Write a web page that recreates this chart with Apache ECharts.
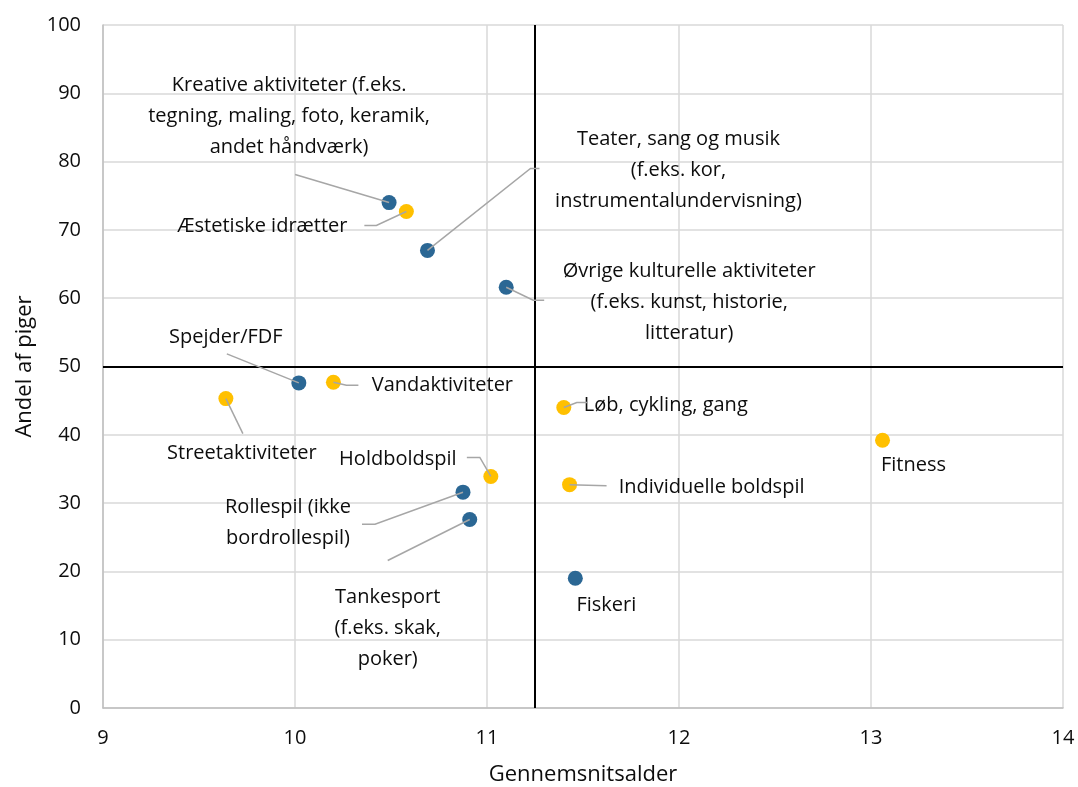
<!DOCTYPE html>
<html>
<head>
<meta charset="utf-8">
<script src="https://cdn.jsdelivr.net/npm/echarts@6/dist/echarts.min.js"></script>
<style>html,body{margin:0;padding:0;background:#fff}#c{width:1078px;height:787px}</style>
</head>
<body>
<div id="c"></div>
<script>
// Blue series (activities)
const blueNames = [
  'Kreative aktiviteter (f.eks.\ntegning, maling, foto, keramik,\nandet håndværk)',
  'Teater, sang og musik\n(f.eks. kor,\ninstrumentalundervisning)',
  'Øvrige kulturelle aktiviteter\n(f.eks. kunst, historie,\nlitteratur)',
  'Spejder/FDF',
  'Rollespil (ikke\nbordrollespil)',
  'Tankesport\n(f.eks. skak,\npoker)',
  'Fiskeri'
];
const blueAge = [10.49, 10.69, 11.10, 10.02, 10.875, 10.91, 11.46];
const blueGirls = [74.0, 67.0, 61.6, 47.6, 31.6, 27.6, 19.0];

// Yellow series (sports)
const yellowNames = [
  'Æstetiske idrætter',
  'Vandaktiviteter',
  'Streetaktiviteter',
  'Løb, cykling, gang',
  'Fitness',
  'Holdboldspil',
  'Individuelle boldspil'
];
const yellowAge = [10.58, 10.20, 9.64, 11.40, 13.06, 11.02, 11.43];
const yellowGirls = [72.7, 47.7, 45.3, 44.0, 39.2, 33.9, 32.7];

const xTicks = [9, 10, 11, 12, 13, 14];
const yTicks = [0, 10, 20, 30, 40, 50, 60, 70, 80, 90, 100];
const medianAge = 11.25;
const halfShare = 50;

// label offsets (pixels relative to marker) and leader-line paths (pixel offsets relative to marker)
const blueLayout = [
  {dx: -100, dy: -86, path: [[-94, -28]]},
  {dx: 251, dy: -80, path: [[103, -82], [112, -82]]},
  {dx: 183, dy: 15, path: [[27, 13], [38, 13]]},
  {dx: -73, dy: -46, path: [[-72, -29]]},
  {dx: -175, dy: 31, path: [[-88, 32], [-101, 32]]},
  {dx: -82, dy: 109, path: [[-82, 41]]},
  {dx: 31, dy: 27, path: []}
];
const yellowLayout = [
  {dx: -144, dy: 15, path: [[-30, 14], [-42, 14]]},
  {dx: 109, dy: 3, path: [[13, 3], [25, 3]]},
  {dx: 16, dy: 55, path: [[17, 35]]},
  {dx: 102, dy: -2, path: [[13, -5], [24, -5]]},
  {dx: 31, dy: 25, path: []},
  {dx: -93, dy: -17, path: [[-11, -19], [-24, -19]]},
  {dx: 142, dy: 3, path: [[37, 1]]}
];

const FONT = '"Open Sans"';
const TXT = '#0d0d0d';
function build(names, xs, ys) {
  return names.map((n, i) => ({name: n, value: [xs[i], ys[i]]}));
}

const labelCfg = {
  show: true,
  position: 'inside',
  formatter: p => p.name,
  color: TXT,
  fontFamily: FONT,
  fontSize: 20,
  lineHeight: 31,
  align: 'center',
  verticalAlign: 'middle'
};

const chart = echarts.init(document.getElementById('c'));
chart.setOption({
  animation: false,
  backgroundColor: '#fff',
  grid: {left: 103, right: 15, top: 25, bottom: 79, containLabel: false, outerBoundsMode: 'none'},
  xAxis: {
    type: 'value', min: 9, max: 14, interval: 1,
    name: 'Gennemsnitsalder', nameLocation: 'middle', nameGap: 56,
    nameTextStyle: {fontFamily: FONT, fontSize: 22, color: TXT},
    axisLine: {show: true, lineStyle: {color: '#bfbfbf', width: 1.5}},
    axisTick: {show: false},
    axisLabel: {fontFamily: FONT, fontSize: 20, color: TXT, margin: 20,
      formatter: v => xTicks.includes(v) ? String(v) : ''},
    splitLine: {show: true, lineStyle: {color: '#d9d9d9', width: 1.5}}
  },
  yAxis: {
    type: 'value', min: 0, max: 100, interval: 10,
    name: 'Andel af piger', nameLocation: 'middle', nameGap: 66, nameRotate: 90,
    nameTextStyle: {fontFamily: FONT, fontSize: 22, color: TXT},
    axisLine: {show: true, lineStyle: {color: '#bfbfbf', width: 1.5}},
    axisTick: {show: false},
    axisLabel: {fontFamily: FONT, fontSize: 20, color: TXT, margin: 22,
      formatter: v => yTicks.includes(v) ? String(v) : ''},
    splitLine: {show: true, lineStyle: {color: '#d9d9d9', width: 1.5}}
  },
  series: [
    {
      type: 'scatter', name: 'blue', symbolSize: 15,
      itemStyle: {color: '#2b6794', opacity: 1},
      data: build(blueNames, blueAge, blueGirls),
      label: labelCfg,
      labelLayout: p => ({dx: blueLayout[p.dataIndex].dx, dy: blueLayout[p.dataIndex].dy}),
      z: 5,
      markLine: {
        silent: true, symbol: 'none', label: {show: false},
        lineStyle: {color: '#000', width: 2, type: 'solid'},
        data: [{xAxis: medianAge}, {yAxis: halfShare}],
        z: 3
      }
    },
    {
      type: 'scatter', name: 'yellow', symbolSize: 15,
      itemStyle: {color: '#ffc000', opacity: 1},
      data: build(yellowNames, yellowAge, yellowGirls),
      label: labelCfg,
      labelLayout: p => ({dx: yellowLayout[p.dataIndex].dx, dy: yellowLayout[p.dataIndex].dy}),
      z: 5
    }
  ]
});

// leader lines anchored on the data points via the chart's own scale
function leaders(xs, ys, layout) {
  const out = [];
  xs.forEach((x, i) => {
    const path = layout[i].path;
    if (!path.length) return;
    const p = chart.convertToPixel({gridIndex: 0}, [x, ys[i]]);
    const pts = [p].concat(path.map(o => [p[0] + o[0], p[1] + o[1]]));
    out.push({
      type: 'polyline', silent: true, z: 10,
      shape: {points: pts},
      style: {stroke: '#a6a6a6', lineWidth: 1.5, fill: null}
    });
  });
  return out;
}
chart.setOption({
  graphic: {elements: leaders(blueAge, blueGirls, blueLayout).concat(leaders(yellowAge, yellowGirls, yellowLayout))}
});
</script>
</body>
</html>
